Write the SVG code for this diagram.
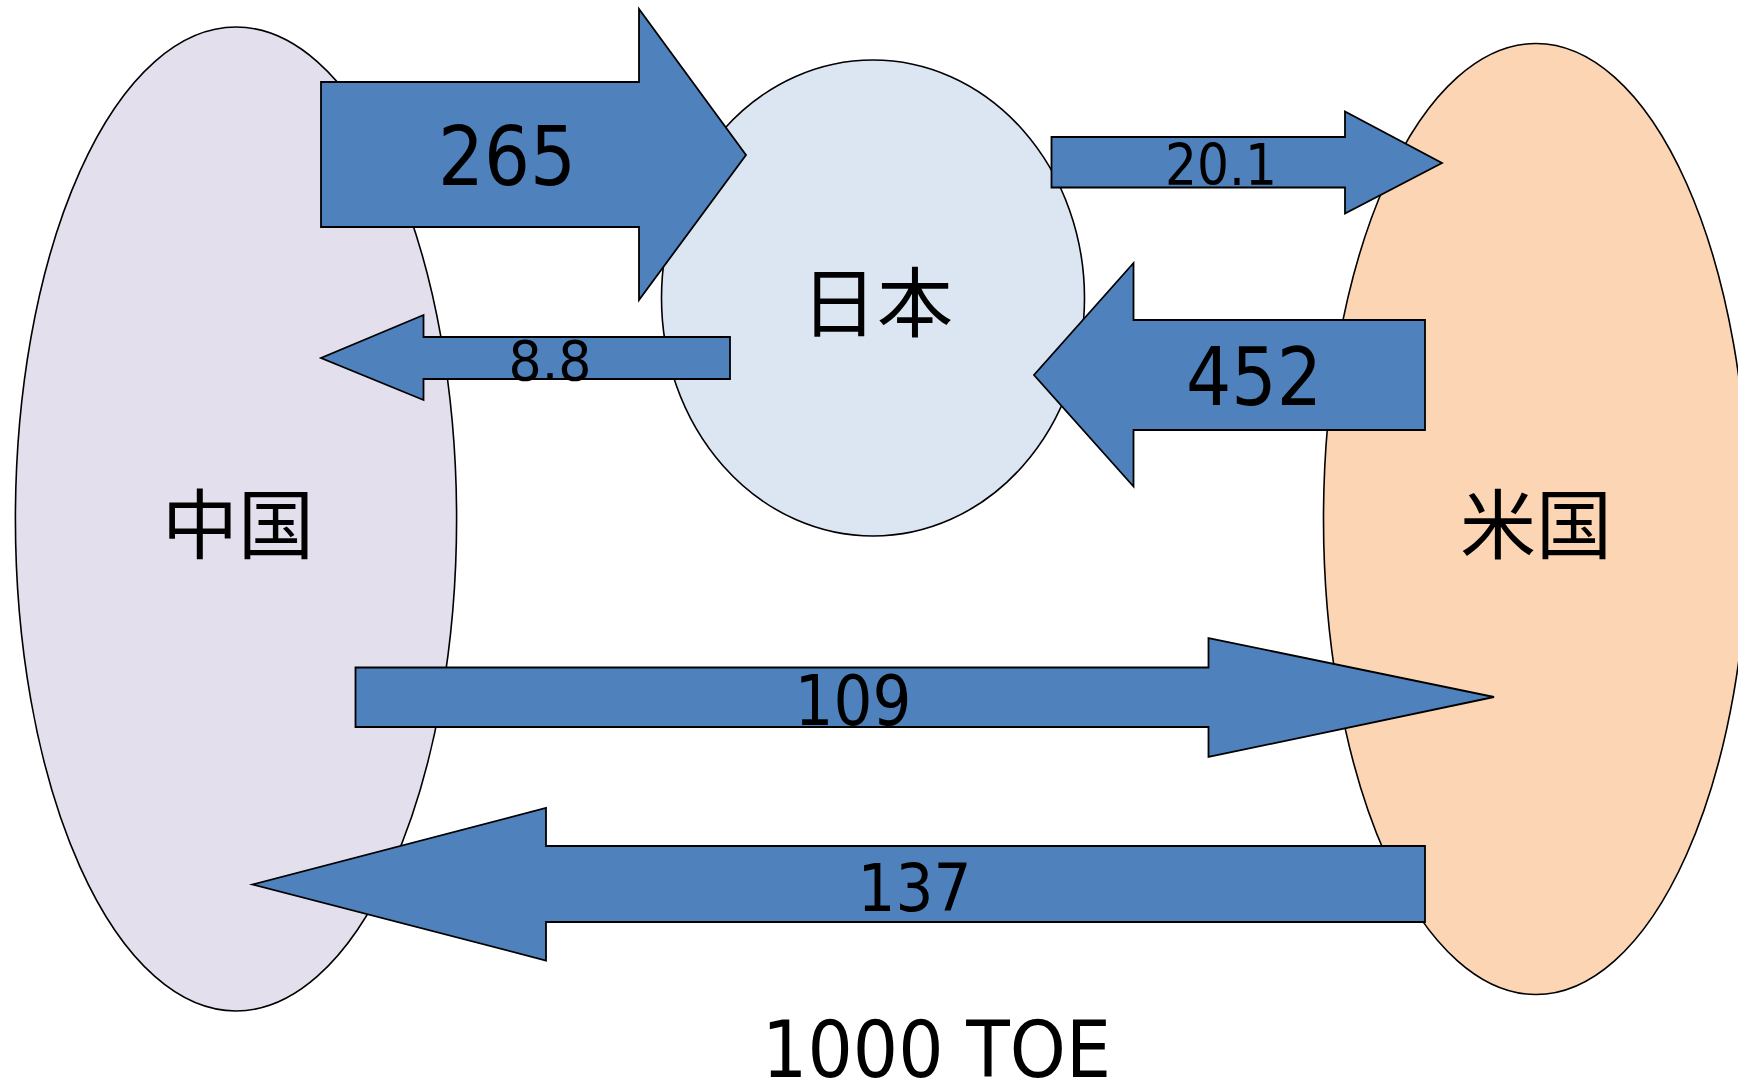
<svg xmlns="http://www.w3.org/2000/svg" width="1738" height="1084" viewBox="0 0 1738 1084">
<style>
.node{stroke:#000;stroke-width:1.6}
.arrow{fill:#4F81BD;stroke:#000;stroke-width:1.8;stroke-linejoin:miter}
.num{font-family:"DejaVu Sans","Liberation Sans",sans-serif;fill:#000;text-anchor:middle}
.cjk{font-family:"Noto Sans CJK JP","Noto Sans CJK SC",sans-serif;fill:#000;text-anchor:middle}
</style>
<rect width="1738" height="1084" fill="#fff"/>
<g id="china">
<ellipse class="node" cx="236" cy="519" rx="220.6" ry="492" fill="#E4DFEC"/>
<text class="cjk" x="238" y="553" font-size="76">中国</text>
</g>
<g id="japan">
<ellipse class="node" cx="873" cy="298" rx="211.5" ry="238" fill="#DCE6F2"/>
<text class="cjk" x="877" y="331" font-size="76">日本</text>
</g>
<g id="usa">
<ellipse class="node" cx="1536" cy="519" rx="212.5" ry="475.5" fill="#FCD5B5"/>
<text class="cjk" x="1536" y="553" font-size="76">米国</text>
</g>
<g id="connectors">
<polygon class="arrow" points="321,82 639,82 639,9 746,155 639,300 639,227 321,227"/>
<polygon class="arrow" points="730,337 423.5,337 423.5,315 321,358 423.5,400 423.5,379 730,379"/>
<polygon class="arrow" points="1051.5,137 1345,137 1345,111.5 1442,163 1345,213.5 1345,187.5 1051.5,187.5"/>
<polygon class="arrow" points="1425,320 1133.5,320 1133.5,263 1034,375 1133.5,486.5 1133.5,430 1425,430"/>
<polygon class="arrow" points="355.5,667.5 1208.5,667.5 1208.5,638 1494,697 1208.5,757 1208.5,727 355.5,727"/>
<polygon class="arrow" points="1425,846 546,846 546,808 252.5,884.5 546,960.5 546,922 1425,922"/>
<text class="num" x="507" y="185" font-size="82" textLength="138" lengthAdjust="spacingAndGlyphs">265</text>
<text class="num" x="550" y="380" font-size="55" textLength="83" lengthAdjust="spacingAndGlyphs">8.8</text>
<text class="num" x="1221" y="185" font-size="57" textLength="112" lengthAdjust="spacingAndGlyphs">20.1</text>
<text class="num" x="1254" y="405" font-size="81" textLength="136" lengthAdjust="spacingAndGlyphs">452</text>
<text class="num" x="853" y="724.5" font-size="70" textLength="117" lengthAdjust="spacingAndGlyphs">109</text>
<text class="num" x="914.5" y="911" font-size="66" textLength="114" lengthAdjust="spacingAndGlyphs">137</text>
</g>
<text class="num" x="936.5" y="1077" font-size="78" textLength="349" lengthAdjust="spacingAndGlyphs">1000 TOE</text>
</svg>
